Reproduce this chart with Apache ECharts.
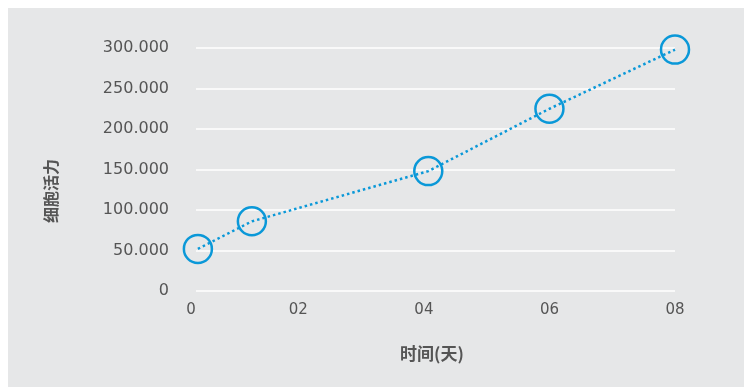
<!DOCTYPE html>
<html>
<head>
<meta charset="utf-8">
<script src="https://cdn.jsdelivr.net/npm/echarts@6/dist/echarts.min.js"></script>
<style>
html,body{margin:0;padding:0;background:#ffffff;}
#chart{width:744px;height:387px;}
</style>
</head>
<body>
<div id="chart"></div>
<script>
// Data
var dayValues = [0.4, 1.26, 4.07, 6.0, 8.0];
var viability = [52, 86, 148, 225, 298];
var xTickValues = [0.37, 2, 4, 6, 8];
var xTickLabels = ['0', '02', '04', '06', '08'];
var yTickMax = 300;
var yTickStep = 50;
var xAxisTitle = '时间(天)';
var yAxisTitle = '细胞活力';

var BLUE = '#0a98d8';
var TXT = '#555555';
var points = dayValues.map(function (d, i) { return [d, viability[i]]; });

var chart = echarts.init(document.getElementById('chart'), null, {renderer: 'canvas'});
chart.setOption({
  backgroundColor: '#ffffff',
  animation: false,
  graphic: [
    {type: 'rect', z: -10, silent: true, shape: {x: 8, y: 8, width: 736, height: 379}, style: {fill: '#e6e7e8'}},
    {type: 'text', x: 432, y: 354, style: {text: xAxisTitle, fill: TXT, font: 'bold 17px "Noto Sans CJK SC"', align: 'center', verticalAlign: 'middle'}},
    {type: 'text', x: 51, y: 191, rotation: Math.PI / 2, style: {text: yAxisTitle, fill: TXT, font: 'bold 16px "Noto Sans CJK SC"', align: 'center', verticalAlign: 'middle'}}
  ],
  grid: {left: 196, right: 69, top: 48, bottom: 96, containLabel: false},
  xAxis: {
    type: 'value',
    min: 0.37,
    max: 8,
    axisLine: {show: false},
    axisTick: {show: false},
    splitLine: {show: false},
    axisLabel: {
      customValues: xTickValues,
      showMinLabel: true,
      showMaxLabel: true,
      margin: 12,
      color: TXT,
      fontFamily: 'DejaVu Sans',
      fontSize: 15,
      formatter: function (v) {
        var idx = xTickValues.indexOf(v);
        var t = idx >= 0 ? xTickLabels[idx] : '';
        return idx === 0 ? '{a|' + t + '}' : t;
      },
      rich: {a: {padding: [0, 10, 0, 0], color: TXT, fontFamily: 'DejaVu Sans', fontSize: 15}}
    }
  },
  yAxis: {
    type: 'value',
    min: 0,
    max: yTickMax,
    interval: yTickStep,
    axisLine: {show: false},
    axisTick: {show: false},
    splitLine: {show: true, lineStyle: {color: '#ffffff', width: 1.5}},
    axisLabel: {
      margin: 27,
      color: TXT,
      fontFamily: 'DejaVu Sans',
      fontSize: 16,
      formatter: function (v) { return v === 0 ? '0' : v.toFixed(3); }
    }
  },
  series: [{
    type: 'line',
    data: points,
    symbol: 'circle',
    symbolSize: 28,
    lineStyle: {color: BLUE, width: 2.5, type: [2.5, 3]},
    itemStyle: {color: 'rgba(0,0,0,0)', borderColor: BLUE, borderWidth: 2.5},
    z: 3
  }]
});
</script>
</body>
</html>
